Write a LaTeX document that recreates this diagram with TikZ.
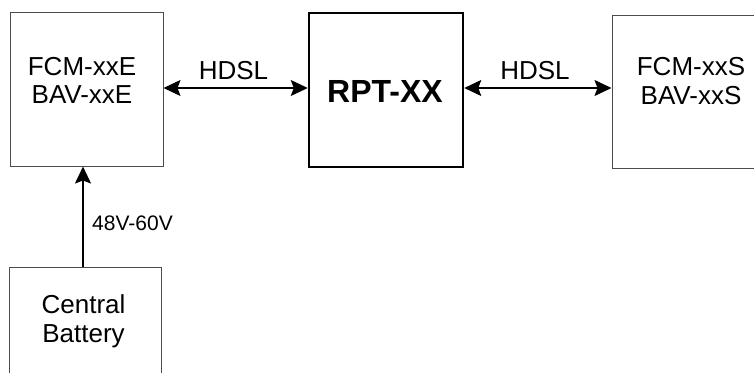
\documentclass[tikz,border=0pt]{standalone}
\usepackage{fontspec}
\setmainfont{Liberation Sans}
\usetikzlibrary{arrows.meta}
\begin{document}
\begin{tikzpicture}[x=1pt,y=-1pt,
  box/.style={draw=black!70, line width=1pt, inner sep=0pt},
  mainbox/.style={draw=black, line width=2.5pt, inner sep=0pt},
  txt/.style={inner sep=0pt, anchor=base, align=center, font=\fontsize{26}{28.5}\selectfont},
  bigtxt/.style={inner sep=0pt, anchor=base, font=\fontsize{32}{35}\selectfont\bfseries},
  smalltxt/.style={inner sep=0pt, anchor=base west, font=\fontsize{21}{24}\selectfont},
  arr/.style={line width=1.5pt, black},
  mytip/.tip={Stealth[length=17pt,width=16pt,inset=3pt]}
]
\useasboundingbox (0,0) rectangle (754,372);
\clip (0,0) rectangle (754,372);
\node[box, minimum width=153pt, minimum height=154pt] (fcmE) at (86.5,89) {};
\node[mainbox, minimum width=154pt, minimum height=154pt] (rpt) at (386,90) {};
\node[box, minimum width=154pt, minimum height=153pt] (fcmS) at (689,91.5) {};
\node[box, minimum width=152pt, minimum height=154pt] (batt) at (85,344) {};
\coordinate (ay) at (0,88);
\coordinate (ax) at (83,0);
\node[txt] (fcmEtxt) at (82,103.5) {FCM-xxE\\BAV-xxE};
\node[txt] (fcmStxt) at (691,104) {FCM-xxS\\BAV-xxS};
\node[txt] (batttxt) at (83.5,342) {Central\\Battery};
\node[bigtxt] (rpttxt) at (385,102) {RPT-XX};
\node[txt] (hdsl1) at (233.5,79) {HDSL};
\node[txt] (hdsl2) at (535,79) {HDSL};
\node[smalltxt] (volt) at (92,230) {48V-60V};
\draw[arr, mytip-mytip] (fcmE.east |- ay) -- (rpt.west |- ay);
\draw[arr, mytip-mytip] (rpt.east |- ay) -- (fcmS.west |- ay);
\draw[arr, -mytip] (batt.north -| ax) -- (fcmE.south -| ax);
\end{tikzpicture}
\end{document}
